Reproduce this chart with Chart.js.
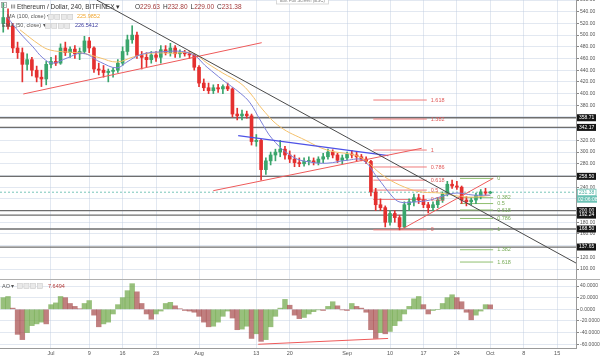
<!DOCTYPE html>
<html><head><meta charset="utf-8">
<script src="https://cdn.jsdelivr.net/npm/chart.js@4/dist/chart.umd.min.js"></script>
<style>
html,body{margin:0;padding:0;background:#fff;width:600px;height:358px;overflow:hidden}
#c1{position:absolute;left:0;top:0}
#c2{position:absolute;left:0;top:280px}
</style></head><body>
<canvas id="c1" width="600" height="280"></canvas>
<canvas id="c2" width="600" height="78"></canvas>
<script>
// ---------- DATA ----------
// day index: 0 = 1 Jul; daily OHLC
const days = [-10,-9,-8,-7,-6,-5,-4,-3,-2,-1,0,1,2,3,4,5,6,7,8,9,10,11,12,13,14,15,16,17,18,19,20,21,22,23,24,25,26,27,28,29,30,31,32,33,34,35,36,37,38,39,40,41,42,43,44,45,46,47,48,49,50,51,52,53,54,55,56,57,58,59,60,61,62,63,64,65,66,67,68,69,70,71,72,73,74,75,76,77,78,79,80,81,82,83,84,85,86,87,88,89,90,91,92];
const opens  = [520,530,515,478,470,450,458,440,428,425,450,455,452,478,470,476,468,472,490,478,442,440,436,438,440,452,472,492,500,465,462,458,466,462,475,470,478,468,470,468,466,445,418,410,405,410,408,412,408,365,362,365,362,318,320,270,285,295,300,305,295,288,282,280,284,285,282,288,292,300,295,286,290,296,295,292,288,284,232,210,205,180,195,188,172,210,215,222,218,210,205,210,218,228,245,242,240,218,215,218,226,232,230];
const highs  = [555,545,520,488,478,468,462,447,440,455,462,465,485,488,480,482,478,498,496,480,452,448,442,444,458,480,500,516,505,472,470,472,472,482,482,486,482,475,474,472,468,448,425,418,415,416,415,418,410,375,372,370,365,330,322,290,300,305,320,310,302,295,290,290,292,290,292,298,305,304,298,295,300,303,300,296,292,286,238,220,208,200,200,192,215,220,228,228,226,214,215,222,232,250,252,250,242,224,222,230,236,238,233];
const lows   = [505,510,470,460,420,440,430,420,412,415,444,448,450,465,462,460,458,468,470,436,432,428,420,428,436,448,466,486,460,442,446,452,455,452,466,464,462,462,464,460,440,412,405,400,400,402,400,405,360,355,355,358,312,310,252,262,278,285,292,288,282,275,275,276,278,278,278,282,288,290,282,280,286,290,285,285,280,225,200,200,172,175,180,167,170,200,208,212,205,196,200,205,214,225,238,236,212,208,210,212,220,226,229];
const closes = [530,515,478,470,450,458,440,428,425,450,455,452,478,470,476,468,472,490,478,442,440,436,438,440,452,472,492,500,465,462,458,466,462,475,470,478,468,470,468,466,445,418,410,405,410,408,412,408,365,362,365,362,318,320,270,285,295,300,305,295,288,282,280,284,285,282,288,292,300,295,286,290,296,295,292,288,284,232,210,205,180,195,188,172,210,215,222,218,210,205,210,218,228,245,242,240,218,215,218,226,232,230,231.38];
const aoValues = [20,22,2,-43,-52,-40,-28,-25,-22,-25,8,11,22,20,10,5,1,10,15,-10,-30,-25,-22,-8,8,20,32,44,30,10,-8,-17,-8,-3,10,12,6,1,-2,-3,-5,-12,-22,-30,-29,-22,-12,-3,-15,-35,-34,-29,-50,-42,-55,-52,-30,-12,2,17,7,-10,-16,-14,-8,-4,-1,-2,5,13,6,-1,-2,10,5,2,-5,-35,-50,-40,-42,-38,-28,-20,-8,5,18,22,8,-8,-2,0,10,20,25,20,13,-5,-18,-10,-3,8,7.65];
// MA (100, close) - orange
const smaDays = [-6.5,-2.3,-0.2,3.4,6.7,10.3,13.8,17.2,20.7,25.5,29.7,32.7,36,39.6,41.7,44.4,48,53.2,57.8,64.7,68.9,71,75.2,77.9,81.5,85,88.4,92];
const smaValues = [509,483,474.5,471,469,461,454,462.5,469,469,469,452,435,418,401,372,343,320.6,303.5,291.5,264,252,236.5,231.5,230,225,223,226];
// EMA (50, close) - blue
const emaDays = [-9.2,-6.5,-3.8,-1.7,0.4,3.4,6.7,10.3,13.8,15.9,18.6,22.2,29.1,32.7,36,39.6,41.7,43.8,46.5,50.7,54.2,57.8,62,65.3,68.3,71.6,73.1,75.8,79.4,82.1,85,88.4,92];
const emaValues = [531,503.6,480,461,452,461,469,454,444,454,466,471,469,445,423,401,384,355,321,291.5,283,281,286,286,257,223,214.5,214.5,218,225,230,226.5,226.5];
// horizontal levels (price axis badges)
const hlinePrices = [358.71,342.17,258.50,200.00,192.24,168.50,137.65];
const lastPrice = 231.38;
const countdown = "02:06:08";
// Fibonacci retracements
const fibLabels = ["0","0.382","0.5","0.618","0.786","1","1.382","1.618"];
const redFibPrices = [167,219,235,252,274.5,303.5,356.5,389];
const redFibSpan = [67.5,78.7];
const greenFibPrices = [255,222,212,201,186.5,167,133,112];
const greenFibSpan = [85.65,92.6];
// trend lines [day, price] endpoints
const blackLine = [[9.57,560],[109.95,110.3]];
const redLineA = [[-5.8,399.3],[44.13,487]];
const redLineB = [[33.99,234],[77.63,306.5]];
const redLineC = [[73.45,168],[92.63,255.2]];
const blueLine = [[39.2,328],[70.64,293.8]];
const aoDivergence = [[43.4,-60],[70.6,-50]];
// axis ticks
const tickDays = [0,8,15,22,31,43,50,62,71,78,85,92,99,106];
const tickLabels = ["Jul","9","16","23","Aug","13","20","Sep","10","17","24","Oct","8","15"];
const priceTicks = [100,120,140,160,180,200,220,240,260,280,300,320,340,360,380,400,420,440,460,480,500,520,540,560];
const aoTicks = [-60,-40,-20,0,20,40];

// ---------- STYLE ----------
const FONT = '"Liberation Sans", Arial, sans-serif';
const GRID = 'rgba(190,205,225,0.45)';
const UP = '#3aa56c', DOWN = '#e4302f';
const X_MIN = -10.68, X_MAX = 109.95;

const candleColors = closes.map((c,i)=> c>=opens[i] ? UP : DOWN);
const seg = (pts)=>pts.map(p=>({x:p[0],y:p[1]}));
const lineDS = (data,color,order,extra)=>Object.assign({type:'line',data,borderColor:color,borderWidth:1,pointRadius:0,tension:0,order,clip:false},extra||{});

const ds1 = [];
hlinePrices.forEach(p=>ds1.push(lineDS([{x:X_MIN,y:p},{x:X_MAX,y:p}],'#6e6e6e',60,{borderWidth:1.3})));
ds1.push(lineDS([{x:X_MIN,y:lastPrice},{x:X_MAX,y:lastPrice}],'#77c6b9',55,{borderDash:[2,2]}));
redFibPrices.forEach(p=>ds1.push(lineDS([{x:redFibSpan[0],y:p},{x:redFibSpan[1],y:p}],'#ef7b7b',50)));
greenFibPrices.forEach(p=>ds1.push(lineDS([{x:greenFibSpan[0],y:p},{x:greenFibSpan[1],y:p}],'#8fbf6f',50)));
ds1.push({type:'bar',data:days.map((d,i)=>({x:d,y:[lows[i],highs[i]]})),backgroundColor:candleColors,barThickness:1,grouped:false,order:41});
ds1.push({type:'bar',data:days.map((d,i)=>({x:d,y:[opens[i],closes[i]]})),backgroundColor:candleColors,barThickness:3,grouped:false,order:40,minBarLength:1});
ds1.push(lineDS(smaDays.map((d,i)=>({x:d,y:smaValues[i]})),'#f4c06a',20,{tension:0.4}));
ds1.push(lineDS(emaDays.map((d,i)=>({x:d,y:emaValues[i]})),'#7c80d8',19,{tension:0.4}));
ds1.push(lineDS(seg(blackLine),'#4a4a4a',10));
ds1.push(lineDS(seg(redLineA),'#ee5a5a',10));
ds1.push(lineDS(seg(redLineB),'#ee5a5a',10));
ds1.push(lineDS(seg(redLineC),'#ee5a5a',10));
ds1.push(lineDS(seg(blueLine),'#4e52e6',10,{borderWidth:1.2}));

function xAxis(showLabels){
  return {type:'linear',min:X_MIN,max:X_MAX,offset:false,
    afterBuildTicks:s=>{s.ticks=tickDays.map(v=>({value:v}));},
    ticks:{display:showLabels,padding:2.5,maxRotation:0,autoSkip:false,font:{family:FONT,size:5.5},color:'#555',
      callback:(v)=>{const i=tickDays.indexOf(v);return i>=0?tickLabels[i]:'';}},
    grid:{color:GRID,drawTicks:false,offset:false},
    border:{display:showLabels,color:'#9a9a9a'},
    afterFit:s=>{s.height=showLabels?10:0;s.paddingLeft=0;s.paddingRight=0;}};
}

const overlay1 = {id:'ov1',afterDraw(chart){
  const ctx=chart.ctx, y=chart.scales.y, x=chart.scales.x;
  ctx.save();
  // pane separator
  ctx.fillStyle='#b0b0b0';ctx.fillRect(0,279,600,1);
  // fib labels
  ctx.font='5.5px '+FONT;ctx.textBaseline='middle';ctx.textAlign='left';
  ctx.fillStyle='#e05a5a';
  redFibPrices.forEach((p,i)=>ctx.fillText(fibLabels[i],x.getPixelForValue(redFibSpan[1])+4,y.getPixelForValue(p)));
  ctx.fillStyle='#79ac5a';
  greenFibPrices.forEach((p,i)=>ctx.fillText(fibLabels[i],x.getPixelForValue(greenFibSpan[1])+4,y.getPixelForValue(p)));
  // price badges
  ctx.font='5px '+FONT;
  hlinePrices.forEach(p=>{const py=y.getPixelForValue(p);ctx.fillStyle='#151515';ctx.fillRect(577,py-3.5,19,7);ctx.fillStyle='#fff';ctx.fillText(p.toFixed(2),579,py);});
  const lp=y.getPixelForValue(lastPrice);
  ctx.fillStyle='#fff';ctx.fillRect(577,lp-3.5,19,7);ctx.strokeStyle='#6cc2b5';ctx.lineWidth=0.8;ctx.strokeRect(577.5,lp-3,18.5,6.5);
  ctx.fillStyle='#4fb0a2';ctx.fillText(lastPrice.toFixed(2),579,lp);
  ctx.fillStyle='#6cc2b5';ctx.fillRect(577,lp+3.5,20,7);ctx.fillStyle='#fff';ctx.fillText(countdown,578,lp+7);
  // exit full screen button
  ctx.fillStyle='#fff';ctx.fillRect(276,-4,52,8);ctx.strokeStyle='#d0d0d0';ctx.strokeRect(276.5,-4,52,8);
  ctx.fillStyle='#888';ctx.font='4.5px '+FONT;ctx.fillText('Exit Full Screen (ESC)',280,1);
  // header
  ctx.strokeStyle='#999';ctx.lineWidth=0.8;ctx.strokeRect(1.5,2.5,5,5);
  ctx.fillStyle='#999';ctx.fillRect(2.5,4.7,3,0.7);
  ctx.fillStyle='#888';[11,12.6,14.2].forEach(xx=>ctx.fillRect(xx,4.5,0.9,4));
  ctx.font='6.5px '+FONT;ctx.fillStyle='#333';
  ctx.fillText('Ethereum / Dollar, 240, BITFINEX \u25BE',17,6.8);
  let hx=135;
  [['O','229.63'],['H','232.80'],['L','229.00'],['C','231.38']].forEach(([k,v])=>{
    ctx.fillStyle='#333';ctx.fillText(k,hx,6.8);hx+=ctx.measureText(k).width;
    ctx.fillStyle='#a33a3a';ctx.fillText(v,hx,6.8);hx+=ctx.measureText(v).width+3;});
  const btns=(x0,yy)=>{for(let k=0;k<4;k++){ctx.fillStyle='#e9e9e9';ctx.fillRect(x0+k*6.5,yy-2.7,5.5,5.5);ctx.strokeStyle='#c8c8c8';ctx.lineWidth=0.5;ctx.strokeRect(x0+k*6.5+0.25,yy-2.45,5,5);}};
  ctx.font='5.5px '+FONT;
  ctx.fillStyle='#555';ctx.fillText('MA (100, close) \u25BE',7,16.7);btns(48,16.7);
  ctx.fillStyle='#f0a733';ctx.fillText(smaValues[smaValues.length-1]===226?'225.9852':'225.9852',77,16.7);
  ctx.fillStyle='#555';ctx.fillText('EMA (50, close) \u25BE',2,25.7);btns(45,25.7);
  ctx.fillStyle='#3a3a9e';ctx.fillText('226.5412',75,25.7);
  ctx.restore();
}};

new Chart(document.getElementById('c1'),{
  type:'bar',
  data:{datasets:ds1},
  options:{responsive:false,animation:false,events:[],
    layout:{padding:0},
    plugins:{legend:{display:false},tooltip:{enabled:false}},
    scales:{
      x:xAxis(false),
      y:{position:'right',min:81.3,max:560,
        afterBuildTicks:s=>{s.ticks=priceTicks.map(v=>({value:v}));},
        ticks:{font:{family:FONT,size:5},color:'#555',padding:1,callback:v=>Number(v).toFixed(2)},
        grid:{color:GRID,tickLength:3,tickColor:'#888'},
        border:{color:'#9a9a9a'},
        afterFit:s=>{s.width=24;s.paddingTop=0;s.paddingBottom=0;}}
    }},
  plugins:[overlay1]
});

// ---------- AO pane ----------
const aoColors = aoValues.map((v,i)=> (i===0 || v>=aoValues[i-1]) ? 'rgba(112,168,74,0.72)' : 'rgba(168,78,78,0.72)');
const overlay2 = {id:'ov2',afterDraw(chart){
  const ctx=chart.ctx;ctx.save();
  ctx.textBaseline='middle';ctx.textAlign='left';ctx.font='5.5px '+FONT;
  ctx.fillStyle='#555';ctx.fillText('AO \u25BE',2,6);
  for(let k=0;k<4;k++){ctx.fillStyle='#e9e9e9';ctx.fillRect(17+k*6.7,3.3,5.5,5.5);ctx.strokeStyle='#c8c8c8';ctx.lineWidth=0.5;ctx.strokeRect(17.25+k*6.7,3.55,5,5);}
  ctx.fillStyle='#b23b3b';ctx.fillText(aoValues[aoValues.length-1]>0?'7.6494':'7.6494',48,6);
  ctx.restore();
}};
new Chart(document.getElementById('c2'),{
  type:'bar',
  data:{datasets:[
    {type:'bar',data:days.map((d,i)=>({x:d,y:aoValues[i]})),backgroundColor:aoColors,barPercentage:1,categoryPercentage:1,grouped:false,order:5},
    {type:'line',data:seg(aoDivergence),borderColor:'#ee5a5a',borderWidth:1,pointRadius:0,order:1}
  ]},
  options:{responsive:false,animation:false,events:[],
    layout:{padding:0},
    plugins:{legend:{display:false},tooltip:{enabled:false}},
    scales:{
      x:xAxis(true),
      y:{position:'right',min:-66.4,max:50.3,
        afterBuildTicks:s=>{s.ticks=aoTicks.map(v=>({value:v}));},
        ticks:{font:{family:FONT,size:5},color:'#555',padding:1,callback:v=>Number(v).toFixed(4)},
        grid:{color:GRID,tickLength:3,tickColor:'#888'},
        border:{color:'#9a9a9a'},
        afterFit:s=>{s.width=24;s.paddingTop=0;s.paddingBottom=0;}}
    }},
  plugins:[overlay2]
});
</script>
</body></html>
